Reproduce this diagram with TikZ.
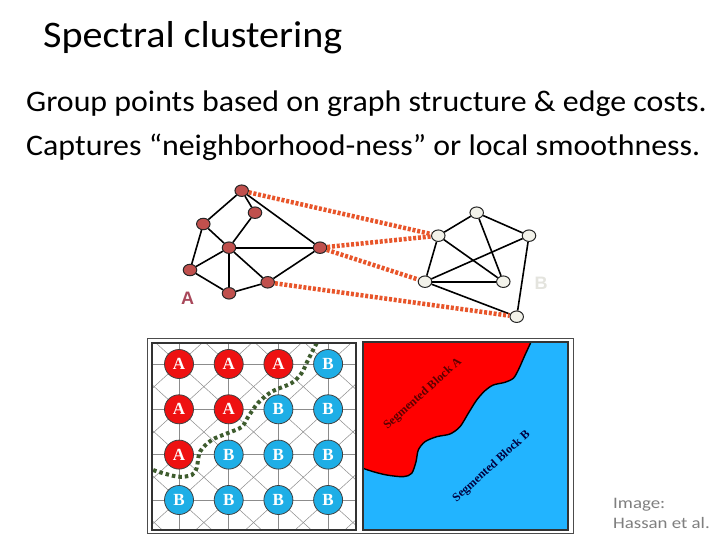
\documentclass[tikz,border=0pt]{standalone}
\usepackage{fontspec}
\setmainfont{Carlito}
\newfontfamily\timesfont{Liberation Serif}
\newfontfamily\arialfont{Liberation Sans}
\usetikzlibrary{shapes.geometric}
\definecolor{nodered}{HTML}{C0504D}
\definecolor{nodewhite}{HTML}{F2F2EA}
\definecolor{cutorange}{HTML}{E8552A}
\definecolor{labelA}{HTML}{A8485A}
\definecolor{labelB}{HTML}{E4E4DE}
\definecolor{gridred}{HTML}{EE1111}
\definecolor{gridblue}{HTML}{1EAEE6}
\definecolor{segred}{HTML}{FF0000}
\definecolor{segblue}{HTML}{22B4FF}
\definecolor{pathgreen}{HTML}{3E5C2E}
\definecolor{creditgray}{HTML}{7F7F7F}

\begin{document}
\begin{tikzpicture}[x = 1pt, y = -1pt,
                        rednode/.style = {ellipse, draw = black!85, line width = 1pt, fill = nodered, minimum width = 13.5pt, minimum height = 11.5pt, inner sep = 0pt},
                        whitenode/.style = {ellipse, draw = black!85, line width = 1pt, fill = nodewhite, minimum width = 13.5pt, minimum height = 11.5pt, inner sep = 0pt},
                        edge/.style = {line width = 1.6pt},
                        cut/.style = {draw = cutorange, line width = 4.5pt, dash pattern = on 3pt off 1.8pt},
                        cellA/.style = {circle, draw = black!75, line width = 0.8pt, fill = gridred, minimum size = 29pt, inner sep = 0pt, text = white, font = \timesfont\bfseries\fontsize{17}{17}\selectfont},
                        cellB/.style = {circle, draw = black!75, line width = 0.8pt, fill = gridblue, minimum size = 29pt, inner sep = 0pt, text = white, font = \timesfont\bfseries\fontsize{17}{17}\selectfont},
                        segtext/.style = {rotate = 42, inner sep = 0pt, font = \timesfont\bfseries\fontsize{12}{12}\selectfont},
                        slidetext/.style = {anchor = base west, inner sep = 0pt, xscale = 1.07}]
      \useasboundingbox[fill = white] (0, 0) rectangle (720, 540);
      % title and text
      \node [slidetext, font = \fontsize{37.5}{40}\selectfont] (title) at (43, 48) {Spectral clustering};
      \node [slidetext, font = \fontsize{29.8}{34}\selectfont] (line1) at (26, 112) {Group points based on graph structure \& edge costs.};
      \node [slidetext, font = \fontsize{29.8}{34}\selectfont] (line2) at (26, 156) {Captures “neighborhood-ness” or local smoothness.};
      % graph
      \node [rednode] (a1) at (241.7, 190.7){};
      \node [rednode] (a2) at (255, 212.7){};
      \node [rednode] (a3) at (203.3, 224){};
      \node [rednode] (a4) at (229, 247.7){};
      \node [rednode] (a5) at (320, 247.7){};
      \node [rednode] (a6) at (190, 270){};
      \node [rednode] (a7) at (267.7, 282.3){};
      \node [rednode] (a8) at (229, 293.3){};
      \node [whitenode] (b1) at (476.7, 212.7){};
      \node [whitenode] (b2) at (438.3, 235.7){};
      \node [whitenode] (b3) at (529, 235.7){};
      \node [whitenode] (b4) at (425, 281.7){};
      \node [whitenode] (b5) at (503.3, 281.7){};
      \node [whitenode] (b6) at (516.7, 316.7){};
      \node [text = labelA, font = \arialfont\bfseries\fontsize{18}{18}\selectfont] (labA) at (187.5, 298.3) {A};
      \node [text = labelB, font = \arialfont\bfseries\fontsize{18}{18}\selectfont] (labB) at (541, 283.3) {B};
      \draw [edge] (a1) -- (a3); \draw [edge] (a1) -- (a2); \draw [edge] (a1) -- (a5);
      \draw [edge] (a2) -- (a4); \draw [edge] (a3) -- (a4); \draw [edge] (a3) -- (a6);
      \draw [edge] (a4) -- (a5); \draw [edge] (a4) -- (a6); \draw [edge] (a4) -- (a8); \draw [edge] (a4) -- (a7);
      \draw [edge] (a6) -- (a8); \draw [edge] (a8) -- (a7); \draw [edge] (a7) -- (a5);
      \draw [edge] (b2) -- (b1); \draw [edge] (b1) -- (b3); \draw [edge] (b1) -- (b5);
      \draw [edge] (b2) -- (b4); \draw [edge] (b2) -- (b5); \draw [edge] (b4) -- (b3);
      \draw [edge] (b4) -- (b5); \draw [edge] (b4) -- (b6); \draw [edge] (b3) -- (b6);
      \draw [cut] (a1) -- (b2); \draw [cut] (a5) -- (b2); \draw [cut] (a5) -- (b4); \draw [cut] (a7) -- (b6);
      % outer frame
      \draw [black!70, line width = 0.8pt] (147, 338) rectangle (573, 533);
      % left panel: grid
      \begin{scope}
        \clip (152, 343) rectangle (356, 530);
        \draw [black!45, line width = 0.5pt] (179, 343) -- (179, 530) (228.7, 343) -- (228.7, 530) (278.4, 343) -- (278.4, 530) (328.1, 343) -- (328.1, 530);
        \draw [black!45, line width = 0.5pt] (152, 364) -- (356, 364) (152, 409.3) -- (356, 409.3) (152, 454.6) -- (356, 454.6) (152, 500) -- (356, 500);
        \foreach \k in {-5, ..., 8}
          \draw [black!45, line width = 0.5pt] (179 + 49.7 * \k - 49.7 * 5, 364 - 45.3 * 5) -- (179 + 49.7 * \k + 49.7 * 5, 364 + 45.3 * 5)
                                               (179 + 49.7 * \k + 49.7 * 5, 364 - 45.3 * 5) -- (179 + 49.7 * \k - 49.7 * 5, 364 + 45.3 * 5);
        \draw [pathgreen, line width = 4pt, dash pattern = on 3.5pt off 3pt] plot [smooth] coordinates {(316.7, 343) (308, 360) (301.7, 373) (291.7, 383) (271.7, 391.7) (258, 403) (248, 417) (241.7, 427) (228, 433) (211.7, 440) (200, 451.7) (196.7, 468) (191.7, 475) (178, 476.7) (158, 471.7) (151, 469)};
      \end{scope}
      \draw [black!80, line width = 1.5pt] (152, 343) rectangle (356, 530);
      \node [cellA] (g11) at (179, 364) {A};
      \node [cellA] (g12) at (228.7, 364) {A};
      \node [cellA] (g13) at (278.4, 364) {A};
      \node [cellB] (g14) at (328.1, 364) {B};
      \node [cellA] (g21) at (179, 409.3) {A};
      \node [cellA] (g22) at (228.7, 409.3) {A};
      \node [cellB] (g23) at (278.4, 409.3) {B};
      \node [cellB] (g24) at (328.1, 409.3) {B};
      \node [cellA] (g31) at (179, 454.6) {A};
      \node [cellB] (g32) at (228.7, 454.6) {B};
      \node [cellB] (g33) at (278.4, 454.6) {B};
      \node [cellB] (g34) at (328.1, 454.6) {B};
      \node [cellB] (g41) at (179, 500) {B};
      \node [cellB] (g42) at (228.7, 500) {B};
      \node [cellB] (g43) at (278.4, 500) {B};
      \node [cellB] (g44) at (328.1, 500) {B};
      % right panel: segmented blocks
      \fill [segblue] (363, 342) rectangle (568, 530);
      \fill [segred] (363, 342) -- (530.7, 342) -- plot [smooth] coordinates {(530.7, 342.7) (525, 355) (518.3, 370) (513.3, 378.3) (505, 382.3) (493.3, 385) (485, 390.7) (476.7, 400) (468.3, 413.3) (460, 426.7) (450, 434) (436.7, 436.7) (425, 441.7) (418.3, 450) (416, 461.7) (411.7, 473.3) (403.3, 476.7) (386.7, 475) (373.3, 471.7) (363, 468.3)} -- cycle;
      \draw [black, line width = 1.4pt] plot [smooth] coordinates {(530.7, 342.7) (525, 355) (518.3, 370) (513.3, 378.3) (505, 382.3) (493.3, 385) (485, 390.7) (476.7, 400) (468.3, 413.3) (460, 426.7) (450, 434) (436.7, 436.7) (425, 441.7) (418.3, 450) (416, 461.7) (411.7, 473.3) (403.3, 476.7) (386.7, 475) (373.3, 471.7) (363, 468.3)};
      \draw [black!80, line width = 1.2pt] (363, 342) rectangle (568, 530);
      \node [segtext, text = black!65!red] (segA) at (423, 394) {Segmented Block A};
      \node [segtext, text = black!75!blue] (segB) at (491.7, 466.7) {Segmented Block B};
      % credit
      \node [slidetext, xscale = 1.1, text = creditgray, font = \fontsize{16}{16}\selectfont] (credit1) at (613, 508) {Image:};
      \node [slidetext, xscale = 1.1, text = creditgray, font = \fontsize{16}{16}\selectfont] (credit2) at (613, 528) {Hassan et al.};
    \end{tikzpicture}
\end{document}
